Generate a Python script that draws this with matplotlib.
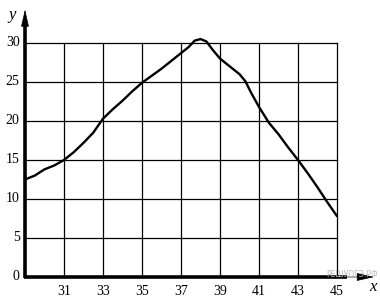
import numpy as np
import matplotlib.pyplot as plt

# curve
x_vals = [29, 29.5, 30, 30.5, 31, 31.5, 32, 32.5, 33, 33.5, 34, 34.5, 35, 35.5,
          36, 36.5, 37, 37.4, 37.7, 38.0, 38.3, 38.6, 39.0, 39.5, 40.0, 40.3,
          40.6, 41.0, 41.5, 42.0, 42.5, 43.0, 43.5, 44.0, 44.5, 45.0]
y_vals = [12.5, 13.0, 13.8, 14.3, 15.0, 16.0, 17.2, 18.5, 20.3, 21.5, 22.6, 23.8,
          24.9, 25.8, 26.7, 27.7, 28.7, 29.5, 30.3, 30.5, 30.2, 29.2, 28.0, 27.0,
          26.0, 25.1, 23.6, 21.8, 19.8, 18.3, 16.6, 15.0, 13.3, 11.5, 9.6, 7.8]

x_ticks = [31, 33, 35, 37, 39, 41, 43, 45]
y_ticks = [0, 5, 10, 15, 20, 25, 30]

plt.rcParams['font.family'] = ['Liberation Serif', 'DejaVu Serif']

fig = plt.figure(figsize=(3.8, 3.01), dpi=100)
ax = fig.add_axes([0, 0, 1, 1])
ax.set_xlim(27.718, 47.205)
ax.set_ylim(-3.077, 35.51)
ax.axis('off')

# grid
for xv in x_ticks:
    ax.plot([xv, xv], [0, 30], color='black', lw=0.9)
for yv in y_ticks[1:]:
    ax.plot([29, 45], [yv, yv], color='black', lw=0.9)

# curve
ax.plot(x_vals, y_vals, color='black', lw=1.7, solid_capstyle='round',
        solid_joinstyle='round')

# axes: thick lines, then thin filled arrow heads
ax.plot([29, 29], [-0.15, 32.5], color='black', lw=2.6, solid_capstyle='butt')
ax.plot([28.93, 45.5], [0, 0], color='black', lw=2.6, solid_capstyle='butt')
head = dict(arrowstyle='-|>,head_length=1.1,head_width=0.25', lw=0.5,
            color='black', shrinkA=0, shrinkB=0, mutation_scale=10)
ax.annotate('', xy=(29, 34.3), xytext=(29, 31), arrowprops=head)
ax.annotate('', xy=(46.9, 0), xytext=(45.3, 0), arrowprops=head)

# tick labels
for xv in x_ticks:
    ax.text(xv, -1.0, str(xv), ha='center', va='top', fontsize=10)
for yv in y_ticks:
    ax.text(28.72, yv, str(yv), ha='right', va='center', fontsize=10)

ax.text(28.33, 33.6, 'y', ha='center', va='center', fontsize=12, style='italic')
ax.text(46.85, -1.3, 'x', ha='center', va='center', fontsize=12, style='italic')
ax.text(45.75, 0.35, 'РЕШУОГЭ.РФ', ha='center', va='center', fontsize=5.5,
        color='#b8b8b8', family='DejaVu Sans')

fig.savefig('out.png', dpi=100)
